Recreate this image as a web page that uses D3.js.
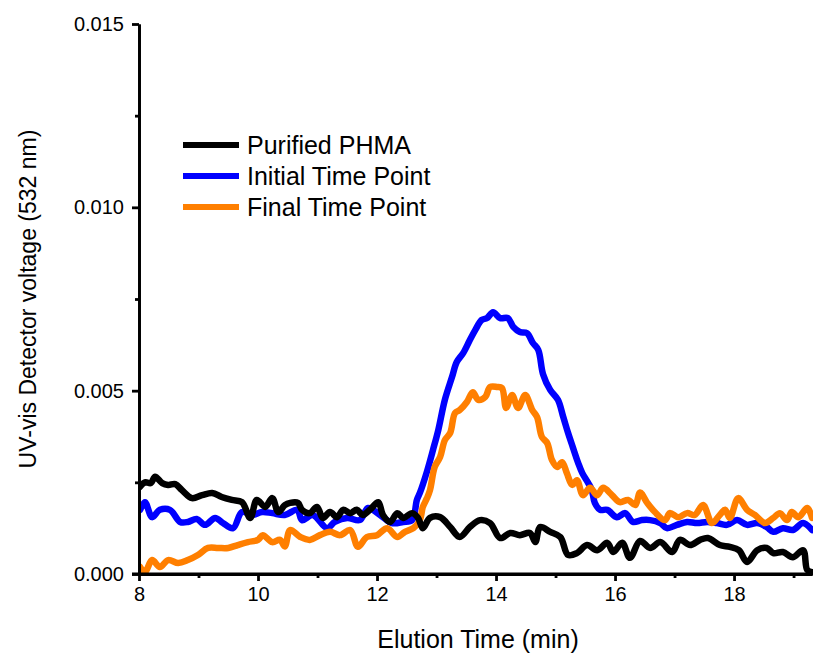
<!DOCTYPE html>
<html lang="en">
<head>
  <meta charset="UTF-8">
  <title>UV-vis detector trace</title>
  <script src="https://d3js.org/d3.v7.min.js"></script>
  <style>
    body { margin: 0; background: #fff; }
    text { font-family: Arial, "Liberation Sans", sans-serif; fill: #000; }
  </style>
</head>
<body>
  <div id="chart"></div>
  <script>
  // elution time (min) and detector voltage for each trace
  const phmaTime = [8.00, 8.10, 8.20, 8.27, 8.39, 8.49, 8.61, 8.72, 8.89, 9.06, 9.23, 9.39, 9.56, 9.73, 9.87, 9.98,
    10.12, 10.24, 10.34, 10.45, 10.54, 10.67, 10.74, 10.87, 10.99, 11.09, 11.21, 11.33, 11.43, 11.55, 11.66, 11.76,
    11.88, 12.02, 12.10, 12.22, 12.34, 12.44, 12.59, 12.69, 12.77, 12.89, 13.06, 13.23, 13.39, 13.56, 13.73, 13.90,
    14.07, 14.24, 14.40, 14.57, 14.66, 14.74, 14.91, 15.08, 15.21, 15.36, 15.53, 15.70, 15.87, 15.97, 16.12, 16.25,
    16.42, 16.59, 16.76, 16.96, 17.09, 17.26, 17.43, 17.56, 17.76, 17.93, 18.08, 18.22, 18.39, 18.55, 18.66, 18.82,
    18.99, 19.16, 19.23, 19.31]
  const phmaV = [0.00235, 0.00250, 0.00248, 0.00265, 0.00248, 0.00243, 0.00245, 0.00229, 0.00207, 0.00215, 0.00221,
    0.00210, 0.00202, 0.00196, 0.00153, 0.00202, 0.00183, 0.00207, 0.00169, 0.00188, 0.00194, 0.00194, 0.00175,
    0.00166, 0.00183, 0.00153, 0.00169, 0.00155, 0.00175, 0.00166, 0.00175, 0.00161, 0.00175, 0.00196, 0.00161,
    0.00142, 0.00166, 0.00153, 0.00166, 0.00153, 0.00125, 0.00153, 0.00155, 0.00128, 0.00101, 0.00128, 0.00147,
    0.00139, 0.00098, 0.00112, 0.00106, 0.00112, 0.00087, 0.00128, 0.00115, 0.00101, 0.00052, 0.00057, 0.00079,
    0.00065, 0.00085, 0.00060, 0.00085, 0.00044, 0.00090, 0.00071, 0.00087, 0.00060, 0.00093, 0.00079, 0.00093,
    0.00098, 0.00079, 0.00074, 0.00065, 0.00033, 0.00065, 0.00071, 0.00057, 0.00060, 0.00046, 0.00065, 0.00011,
    0.00005]

  const initialTime = [8.02, 8.10, 8.22, 8.35, 8.52, 8.69, 8.82, 8.97, 9.11, 9.28, 9.41, 9.58, 9.73, 9.90, 10.07,
    10.24, 10.45, 10.66, 10.74, 10.92, 11.16, 11.29, 11.50, 11.71, 11.85, 12.05, 12.25, 12.44, 12.59, 12.67, 12.72,
    12.84, 12.94, 13.03, 13.14, 13.26, 13.34, 13.45, 13.56, 13.65, 13.76, 13.85, 13.95, 14.07, 14.20, 14.29, 14.40,
    14.52, 14.62, 14.71, 14.79, 14.91, 15.04, 15.13, 15.21, 15.29, 15.38, 15.45, 15.55, 15.61, 15.66, 15.75, 15.87,
    16.03, 16.17, 16.30, 16.45, 16.59, 16.76, 16.87, 17.04, 17.21, 17.38, 17.55, 17.71, 17.88, 18.05, 18.22, 18.39,
    18.55, 18.66, 18.82, 18.99, 19.16, 19.31]
  const initialV = [0.00175, 0.00196, 0.00155, 0.00175, 0.00175, 0.00142, 0.00142, 0.00150, 0.00134, 0.00153,
    0.00139, 0.00125, 0.00169, 0.00161, 0.00169, 0.00166, 0.00161, 0.00175, 0.00147, 0.00161, 0.00125, 0.00142,
    0.00153, 0.00147, 0.00180, 0.00161, 0.00139, 0.00142, 0.00147, 0.00202, 0.00221, 0.00280, 0.00338, 0.00393,
    0.00475, 0.00537, 0.00578, 0.00603, 0.00638, 0.00665, 0.00693, 0.00698, 0.00714, 0.00698, 0.00698, 0.00674,
    0.00660, 0.00657, 0.00630, 0.00611, 0.00545, 0.00502, 0.00475, 0.00428, 0.00385, 0.00346, 0.00303, 0.00275,
    0.00248, 0.00229, 0.00194, 0.00175, 0.00175, 0.00155, 0.00166, 0.00142, 0.00147, 0.00147, 0.00139, 0.00125,
    0.00134, 0.00142, 0.00139, 0.00142, 0.00139, 0.00134, 0.00147, 0.00134, 0.00139, 0.00128, 0.00115, 0.00125,
    0.00120, 0.00139, 0.00120]

  const finalTime = [8.02, 8.10, 8.22, 8.35, 8.49, 8.66, 8.82, 8.99, 9.16, 9.33, 9.50, 9.66, 9.83, 10.00, 10.08,
    10.24, 10.37, 10.45, 10.54, 10.71, 10.87, 11.04, 11.21, 11.38, 11.55, 11.68, 11.83, 12.00, 12.17, 12.34, 12.47,
    12.61, 12.72, 12.77, 12.84, 12.89, 12.97, 13.06, 13.14, 13.23, 13.31, 13.39, 13.51, 13.61, 13.70, 13.82, 13.90,
    14.02, 14.10, 14.17, 14.27, 14.37, 14.49, 14.61, 14.69, 14.77, 14.86, 14.94, 15.03, 15.11, 15.19, 15.28, 15.36,
    15.46, 15.58, 15.70, 15.80, 15.95, 16.08, 16.22, 16.34, 16.42, 16.54, 16.67, 16.84, 16.92, 17.06, 17.21, 17.34,
    17.48, 17.63, 17.76, 17.85, 17.93, 18.07, 18.22, 18.35, 18.52, 18.66, 18.77, 18.89, 18.97, 19.08, 19.23, 19.31]
  const finalV = [0.00019, 0.00005, 0.00038, 0.00019, 0.00038, 0.00030, 0.00038, 0.00052, 0.00071, 0.00071, 0.00071,
    0.00079, 0.00087, 0.00093, 0.00106, 0.00087, 0.00093, 0.00075, 0.00120, 0.00101, 0.00093, 0.00106, 0.00115,
    0.00106, 0.00120, 0.00074, 0.00101, 0.00106, 0.00125, 0.00101, 0.00115, 0.00125, 0.00147, 0.00183, 0.00207,
    0.00229, 0.00292, 0.00319, 0.00365, 0.00385, 0.00439, 0.00447, 0.00469, 0.00496, 0.00475, 0.00483, 0.00510,
    0.00510, 0.00507, 0.00453, 0.00488, 0.00453, 0.00488, 0.00447, 0.00428, 0.00374, 0.00357, 0.00311, 0.00292,
    0.00305, 0.00275, 0.00243, 0.00256, 0.00215, 0.00235, 0.00215, 0.00235, 0.00215, 0.00196, 0.00202, 0.00188,
    0.00222, 0.00194, 0.00169, 0.00147, 0.00166, 0.00155, 0.00166, 0.00161, 0.00188, 0.00139, 0.00161, 0.00175,
    0.00153, 0.00207, 0.00175, 0.00161, 0.00139, 0.00153, 0.00166, 0.00147, 0.00169, 0.00155, 0.00180, 0.00153]

  const seriesNames = ['Purified PHMA', 'Initial Time Point', 'Final Time Point']
  const seriesColors = ['#000000', '#0000ff', '#ff7f00']
  const xMajorTicks = [8, 10, 12, 14, 16, 18]
  const xMinorTicks = [9, 11, 13, 15, 17, 19]
  const yMajorTicks = [0, 0.005, 0.010, 0.015]
  const yMinorTicks = [0.0025, 0.0075, 0.0125]

  const width = 813, height = 655
  const svg = d3.select('#chart')
                .append('svg')
                .attr('width', width)
                .attr('height', height)

  const xScale = d3.scaleLinear()
                   .domain([8, 19.31])
                   .range([139, 812])
  const yScale = d3.scaleLinear()
                   .domain([0, 0.015])
                   .range([574, 24])

  const series = [
    { name: seriesNames[0], color: seriesColors[0], pts: d3.zip(phmaTime, phmaV) },
    { name: seriesNames[1], color: seriesColors[1], pts: d3.zip(initialTime, initialV) },
    { name: seriesNames[2], color: seriesColors[2], pts: d3.zip(finalTime, finalV) }
  ]

  const line = d3.line()
                 .curve(d3.curveCatmullRom.alpha(0.5))
                 .x(d => xScale(d[0]))
                 .y(d => yScale(d[1]))

  // clip so thick strokes don't spill past the axes
  svg.append('clipPath').attr('id', 'plot-clip')
    .append('rect').attr('x', 139).attr('y', 0).attr('width', 674).attr('height', 578)

  // draw order: blue, orange, then black on top
  svg.append('g').attr('clip-path', 'url(#plot-clip)')
    .selectAll('path.trace')
    .data([series[1], series[2], series[0]])
    .enter()
    .append('path')
    .attr('class', 'trace')
    .attr('d', d => line(d.pts))
    .attr('fill', 'none')
    .attr('stroke', d => d.color)
    .attr('stroke-width', 6.5)
    .attr('stroke-linejoin', 'round')
    .attr('stroke-linecap', 'round')

  // axes
  const xAxis = svg.append('g')
    .attr('transform', `translate(0, ${yScale(0)})`)
    .call(d3.axisBottom(xScale).tickValues(xMajorTicks).tickFormat(d3.format('d')).tickSize(7).tickSizeOuter(0))
  xAxis.append('g')
    .call(d3.axisBottom(xScale).tickValues(xMinorTicks).tickFormat('').tickSize(4).tickSizeOuter(0))

  const yAxis = svg.append('g')
    .attr('transform', `translate(${xScale(8)}, 0)`)
    .call(d3.axisLeft(yScale).tickValues(yMajorTicks).tickFormat(d3.format('.3f')).tickSize(7).tickSizeOuter(0))
  yAxis.append('g')
    .call(d3.axisLeft(yScale).tickValues(yMinorTicks).tickFormat('').tickSize(4).tickSizeOuter(0))

  svg.selectAll('.domain').attr('stroke', '#000').attr('stroke-width', 2.8)
  svg.selectAll('.tick line').attr('stroke', '#000').attr('stroke-width', 2.8)
  svg.selectAll('.tick text')
    .style('font-family', 'Arial, "Liberation Sans", sans-serif')
    .style('font-size', '20px')
    .attr('fill', '#000')
  xAxis.selectAll('.tick text').attr('y', 13)
  yAxis.selectAll('.tick text').attr('x', -15)

  // extend x axis line under the y axis corner
  xAxis.select('.domain').attr('d', `M${xScale(8) - 7},0H${xScale(19.31)}`)

  svg.append('text')
    .attr('x', 478)
    .attr('y', 648)
    .attr('text-anchor', 'middle')
    .style('font-size', '25px')
    .text('Elution Time (min)')

  svg.append('text')
    .attr('transform', 'translate(36, 299) rotate(-90)')
    .attr('text-anchor', 'middle')
    .style('font-size', '23px')
    .text('UV-vis Detector voltage (532 nm)')

  // legend
  const legend = svg.append('g').attr('transform', 'translate(183, 145)')
  legend.selectAll('line')
    .data(series)
    .enter()
    .append('line')
    .attr('x1', 0)
    .attr('x2', 56)
    .attr('y1', (d, i) => i * 31)
    .attr('y2', (d, i) => i * 31)
    .attr('stroke', d => d.color)
    .attr('stroke-width', 6)
  legend.selectAll('text')
    .data(series)
    .enter()
    .append('text')
    .attr('x', 64)
    .attr('y', (d, i) => i * 31 + 8.5)
    .style('font-size', '25px')
    .text(d => d.name)
  </script>
</body>
</html>
